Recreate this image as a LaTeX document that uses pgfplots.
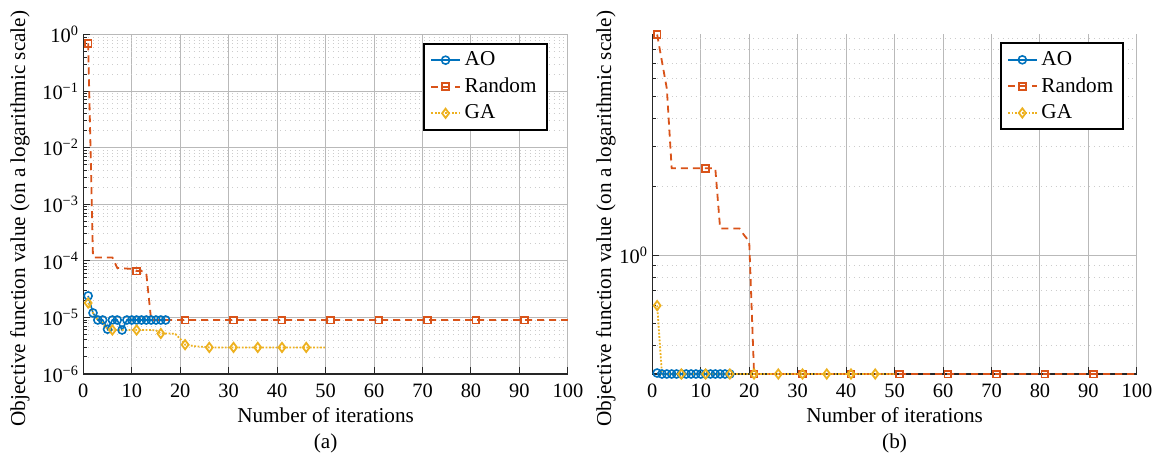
\documentclass[border=0pt]{standalone}
\usepackage{fontspec}
\setmainfont{Liberation Serif}
\usepackage{pgfplots}
\usepackage{pgfplotstable}
\pgfplotsset{compat=1.18}
\definecolor{aoblue}{HTML}{0072BD}
\definecolor{rndred}{HTML}{D95319}
\definecolor{gayellow}{HTML}{EDB120}
\newcommand\lblfont{\fontsize{10.6}{12.7}\selectfont}
\newcommand\tickfont{\fontsize{10.2}{12}\selectfont}

% objective value per iteration: A = panel (a), B = panel (b)
\pgfplotstableread{
it aoA rdA gaA aoB rdB gaB
1 2.4e-5 0.7 1.8e-5 0.303 9.35 0.6
2 1.2e-5 1.15e-4 1.2e-5 0.3 7.1 0.3
3 9e-6 1.15e-4 9e-6 0.3 5.4 0.3
4 9e-6 1.15e-4 8e-6 0.3 2.41 0.3
5 6.2e-6 1.15e-4 6.2e-6 0.3 2.41 0.3
6 9e-6 1.15e-4 6e-6 0.3 2.41 0.3
7 9e-6 7.5e-5 6e-6 0.3 2.41 0.3
8 6e-6 7.4e-5 6e-6 0.3 2.41 0.3
9 9e-6 7.3e-5 6e-6 0.3 2.41 0.3
10 9e-6 7.2e-5 6e-6 0.3 2.41 0.3
11 9e-6 6.6e-5 6e-6 0.3 2.41 0.3
12 9e-6 6.6e-5 6e-6 0.3 2.41 0.3
13 9e-6 6.0e-5 6e-6 0.3 2.41 0.3
14 9e-6 9e-6 6e-6 0.3 1.31 0.3
15 9e-6 9e-6 5.9e-6 0.3 1.31 0.3
16 9e-6 9e-6 5.2e-6 0.3 1.31 0.3
17 9e-6 9e-6 5.2e-6 nan 1.31 0.3
18 nan 9e-6 5.2e-6 nan 1.31 0.3
19 nan 9e-6 5.1e-6 nan 1.22 0.3
20 nan 9e-6 4.2e-6 nan 1.15 0.3
21 nan 9e-6 3.3e-6 nan 0.3 0.3
22 nan 9e-6 3.2e-6 nan 0.3 0.3
23 nan 9e-6 3.1e-6 nan 0.3 0.3
24 nan 9e-6 3.05e-6 nan 0.3 0.3
25 nan 9e-6 3.0e-6 nan 0.3 0.3
26 nan 9e-6 2.95e-6 nan 0.3 0.3
27 nan 9e-6 2.95e-6 nan 0.3 0.3
28 nan 9e-6 2.95e-6 nan 0.3 0.3
29 nan 9e-6 2.95e-6 nan 0.3 0.3
30 nan 9e-6 2.95e-6 nan 0.3 0.3
31 nan 9e-6 2.95e-6 nan 0.3 0.3
32 nan 9e-6 2.95e-6 nan 0.3 0.3
33 nan 9e-6 2.95e-6 nan 0.3 0.3
34 nan 9e-6 2.95e-6 nan 0.3 0.3
35 nan 9e-6 2.95e-6 nan 0.3 0.3
36 nan 9e-6 2.95e-6 nan 0.3 0.3
37 nan 9e-6 2.95e-6 nan 0.3 0.3
38 nan 9e-6 2.95e-6 nan 0.3 0.3
39 nan 9e-6 2.95e-6 nan 0.3 0.3
40 nan 9e-6 2.95e-6 nan 0.3 0.3
41 nan 9e-6 2.95e-6 nan 0.3 0.3
42 nan 9e-6 2.95e-6 nan 0.3 0.3
43 nan 9e-6 2.95e-6 nan 0.3 0.3
44 nan 9e-6 2.95e-6 nan 0.3 0.3
45 nan 9e-6 2.95e-6 nan 0.3 0.3
46 nan 9e-6 2.95e-6 nan 0.3 0.3
47 nan 9e-6 2.95e-6 nan 0.3 0.3
48 nan 9e-6 2.95e-6 nan 0.3 0.3
49 nan 9e-6 2.95e-6 nan 0.3 0.3
50 nan 9e-6 2.95e-6 nan 0.3 0.3
51 nan 9e-6 nan nan 0.3 nan
52 nan 9e-6 nan nan 0.3 nan
53 nan 9e-6 nan nan 0.3 nan
54 nan 9e-6 nan nan 0.3 nan
55 nan 9e-6 nan nan 0.3 nan
56 nan 9e-6 nan nan 0.3 nan
57 nan 9e-6 nan nan 0.3 nan
58 nan 9e-6 nan nan 0.3 nan
59 nan 9e-6 nan nan 0.3 nan
60 nan 9e-6 nan nan 0.3 nan
61 nan 9e-6 nan nan 0.3 nan
62 nan 9e-6 nan nan 0.3 nan
63 nan 9e-6 nan nan 0.3 nan
64 nan 9e-6 nan nan 0.3 nan
65 nan 9e-6 nan nan 0.3 nan
66 nan 9e-6 nan nan 0.3 nan
67 nan 9e-6 nan nan 0.3 nan
68 nan 9e-6 nan nan 0.3 nan
69 nan 9e-6 nan nan 0.3 nan
70 nan 9e-6 nan nan 0.3 nan
71 nan 9e-6 nan nan 0.3 nan
72 nan 9e-6 nan nan 0.3 nan
73 nan 9e-6 nan nan 0.3 nan
74 nan 9e-6 nan nan 0.3 nan
75 nan 9e-6 nan nan 0.3 nan
76 nan 9e-6 nan nan 0.3 nan
77 nan 9e-6 nan nan 0.3 nan
78 nan 9e-6 nan nan 0.3 nan
79 nan 9e-6 nan nan 0.3 nan
80 nan 9e-6 nan nan 0.3 nan
81 nan 9e-6 nan nan 0.3 nan
82 nan 9e-6 nan nan 0.3 nan
83 nan 9e-6 nan nan 0.3 nan
84 nan 9e-6 nan nan 0.3 nan
85 nan 9e-6 nan nan 0.3 nan
86 nan 9e-6 nan nan 0.3 nan
87 nan 9e-6 nan nan 0.3 nan
88 nan 9e-6 nan nan 0.3 nan
89 nan 9e-6 nan nan 0.3 nan
90 nan 9e-6 nan nan 0.3 nan
91 nan 9e-6 nan nan 0.3 nan
92 nan 9e-6 nan nan 0.3 nan
93 nan 9e-6 nan nan 0.3 nan
94 nan 9e-6 nan nan 0.3 nan
95 nan 9e-6 nan nan 0.3 nan
96 nan 9e-6 nan nan 0.3 nan
97 nan 9e-6 nan nan 0.3 nan
98 nan 9e-6 nan nan 0.3 nan
99 nan 9e-6 nan nan 0.3 nan
100 nan 9e-6 nan nan 0.3 nan
}\itertable

\pgfplotsset{
  convaxis/.style={
    scale only axis, width=242.3pt, height=169.75pt,
    xmin=0, xmax=100, xtick={0,10,...,100},
    xticklabels={0,10,20,30,40,50,60,70,80,90,100},
    axis x line*=bottom, axis y line*=left,
    axis line style={black!85, line width=0.6pt},
    tick align=inside, tick style={black!85, line width=0.5pt},
    major tick length=3.5pt, minor tick length=2pt,
    xmajorgrids, ymajorgrids, yminorgrids,
    major grid style={gray!55, line width=0.5pt},
    minor grid style={gray!40, dotted, line width=0.4pt},
    xticklabel style={font=\tickfont, yshift=-1.2pt},
    yticklabel style={font=\tickfont, inner sep=1pt, xshift=-1pt},
    xlabel={Number of iterations},
    ylabel={Objective function value (on a logarithmic scale)},
    label style={font=\lblfont},
    xlabel style={at={(axis description cs:0.5,-0.121)}, anchor=center},
    legend cell align=left,
    legend style={draw=black, line width=1pt, font=\lblfont, fill=white,
      inner xsep=3pt, inner ysep=2pt, row sep=0.6pt},
    legend image code/.code={\draw[mark repeat=2,mark phase=2]
      plot coordinates {(0cm,0cm) (0.25cm,0cm) (0.5cm,0cm)};},
  },
  aostyle/.style={color=aoblue, solid, line width=0.8pt, mark=o, mark size=2pt},
  rdstyle/.style={color=rndred, line width=0.9pt, dash pattern=on 3.5pt off 2.5pt,
    mark=square, mark size=1.7pt, mark options={solid}, mark repeat=10, mark phase=1},
  gastyle/.style={color=gayellow, line width=0.9pt, dash pattern=on 0.9pt off 0.8pt,
    mark=diamond, mark size=2.3pt, mark options={solid}, mark repeat=5, mark phase=1},
}

\begin{document}
\begin{tikzpicture}
\useasboundingbox (0,0) rectangle (579pt,230.5pt);

\begin{semilogyaxis}[convaxis, name=axA,
    at={(41.65pt,43.5pt)}, anchor=south west,
    ymin=1e-6, ymax=1,
    ytick={1e-6,1e-5,1e-4,1e-3,1e-2,1e-1,1},
    yticklabels={10\textsuperscript{−6},10\textsuperscript{−5},10\textsuperscript{−4},10\textsuperscript{−3},10\textsuperscript{−2},10\textsuperscript{−1},10\textsuperscript{0}},
    minor ytick={2e-6,3e-6,4e-6,5e-6,6e-6,7e-6,8e-6,9e-6,
      2e-5,3e-5,4e-5,5e-5,6e-5,7e-5,8e-5,9e-5,
      2e-4,3e-4,4e-4,5e-4,6e-4,7e-4,8e-4,9e-4,
      2e-3,3e-3,4e-3,5e-3,6e-3,7e-3,8e-3,9e-3,
      2e-2,3e-2,4e-2,5e-2,6e-2,7e-2,8e-2,9e-2,
      0.2,0.3,0.4,0.5,0.6,0.7,0.8,0.9},
    ylabel style={at={(axis description cs:-0.1306,0.458)}, anchor=center},
    legend style={at={(axis description cs:0.958,0.976)}, anchor=north east},
]
\addplot[aostyle] table[x=it, y=aoA] {\itertable};
\addlegendentry{AO}
\addplot[rdstyle] table[x=it, y=rdA] {\itertable};
\addlegendentry{Random}
\addplot[gastyle] table[x=it, y=gaA] {\itertable};
\addlegendentry{GA}
\end{semilogyaxis}
\node[font=\lblfont] at ([yshift=-34.5pt]axA.south) {(a)};

\begin{semilogyaxis}[convaxis, name=axB,
    at={(326.15pt,43.5pt)}, anchor=south west,
    ymin=0.3, ymax=9.35,
    ytick={1}, yticklabels={10\textsuperscript{0}},
    minor ytick={0.4,0.5,0.6,0.7,0.8,0.9,2,3,4,5,6,7,8,9},
    ylabel style={at={(axis description cs:-0.0956,0.458)}, anchor=center},
    legend style={at={(axis description cs:0.974,0.977)}, anchor=north east},
]
\addplot[aostyle] table[x=it, y=aoB] {\itertable};
\addlegendentry{AO}
\addplot[rdstyle] table[x=it, y=rdB] {\itertable};
\addlegendentry{Random}
\addplot[gastyle] table[x=it, y=gaB] {\itertable};
\addlegendentry{GA}
\end{semilogyaxis}
\node[font=\lblfont] at ([yshift=-34.5pt]axB.south) {(b)};
\end{tikzpicture}
\end{document}
